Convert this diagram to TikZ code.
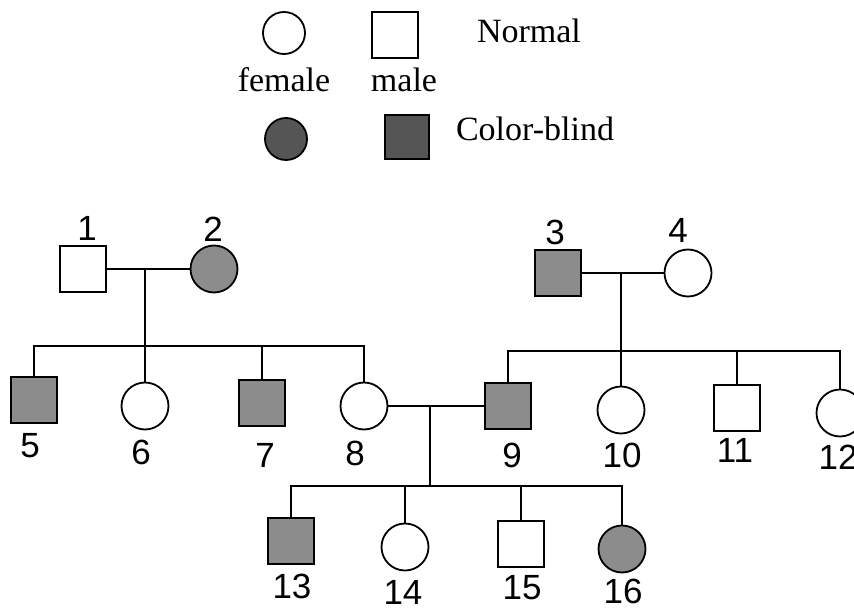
\documentclass[tikz,border=0pt]{standalone}
\usepackage{fontspec}
\setmainfont{Liberation Serif}
\newfontfamily\numfont{Liberation Sans}
\usepackage{tikz}
\definecolor{stipple}{RGB}{140, 140, 140}
\definecolor{keyfill}{RGB}{85, 85, 85}

\begin{document}
\begin{tikzpicture}[x=1pt, y=-1pt, line width=1.8pt,
    male/.style={draw, rectangle, minimum size=46pt, inner sep=0pt, outer sep=0pt},
    female/.style={draw, circle, minimum size=47pt, inner sep=0pt, outer sep=0pt},
    affected/.style={fill=stipple},
    num/.style={font=\numfont\fontsize{35}{40}\selectfont, inner sep=0pt},
    key/.style={font=\fontsize{34}{40}\selectfont, inner sep=0pt, anchor=base}]
  \useasboundingbox[fill=white] (0, 0) rectangle (854, 610);

  % key
  \node[female, minimum size=42pt] (kf) at (284, 33) {};
  \node[male] (km) at (395, 35) {};
  \node[key] (knormal) at (529, 43) {Normal};
  \node[key] (kfemale) at (284, 92) {female};
  \node[key] (kmale) at (404, 92) {male};
  \node[female, minimum size=42pt, fill=keyfill] (kfa) at (286, 139) {};
  \node[male, minimum size=44pt, fill=keyfill] (kma) at (407, 137) {};
  \node[key] (kblind) at (535, 140) {Color-blind};

  % generation I
  \node[male] (p1) at (83, 269) {};
  \node[female, affected] (p2) at (214, 269) {};
  \node[male, affected] (p3) at (558, 273) {};
  \node[female] (p4) at (688, 273) {};
  \node[num] (n1) at (87, 228) {1};
  \node[num] (n2) at (213, 229) {2};
  \node[num] (n3) at (555, 232) {3};
  \node[num] (n4) at (678, 230) {4};

  % generation II
  \node[male, affected] (p5) at (34, 400) {};
  \node[female] (p6) at (145, 406) {};
  \node[male, affected] (p7) at (262, 403) {};
  \node[female] (p8) at (364, 406) {};
  \node[male, affected] (p9) at (508, 406) {};
  \node[female] (p10) at (621, 410) {};
  \node[male] (p11) at (737, 408) {};
  \node[female] (p12) at (840, 413) {};
  \node[num] (n5) at (30, 446) {5};
  \node[num] (n6) at (141, 452) {6};
  \node[num] (n7) at (265, 455) {7};
  \node[num] (n8) at (355, 453) {8};
  \node[num] (n9) at (512, 455) {9};
  \node[num] (n10) at (622, 455) {10};
  \node[num] (n11) at (735, 450) {11};
  \node[num] (n12) at (838, 457) {12};

  % generation III
  \node[male, affected] (p13) at (291, 541) {};
  \node[female] (p14) at (405, 547) {};
  \node[male] (p15) at (521, 544) {};
  \node[female, affected] (p16) at (622, 549) {};
  \node[num] (n13) at (292, 586) {13};
  \node[num] (n14) at (403, 592) {14};
  \node[num] (n15) at (522, 588) {15};
  \node[num] (n16) at (623, 591) {16};

  % marriage and descent lines
  \coordinate (m12) at (145, 269);
  \coordinate (s12) at (145, 346);
  \coordinate (m34) at (621, 273);
  \coordinate (s34) at (621, 351);
  \coordinate (m89) at (430, 406);
  \coordinate (s89) at (430, 486);

  \draw (p1.east) -- (p2.west);
  \draw (m12) -- (s12) -- (p6.north);
  \draw (p5.north) |- (s12) -| (p8.north);
  \draw (s12) -| (p7.north);

  \draw (p3.east) -- (p4.west);
  \draw (m34) -- (s34) -- (p10.north);
  \draw (p9.north) |- (s34) -| (p12.north);
  \draw (s34) -| (p11.north);

  \draw (p8.east) -- (p9.west);
  \draw (m89) -- (s89);
  \draw (p13.north) |- (s89) -| (p16.north);
  \draw (s89) -| (p14.north);
  \draw (s89) -| (p15.north);
\end{tikzpicture}
\end{document}
